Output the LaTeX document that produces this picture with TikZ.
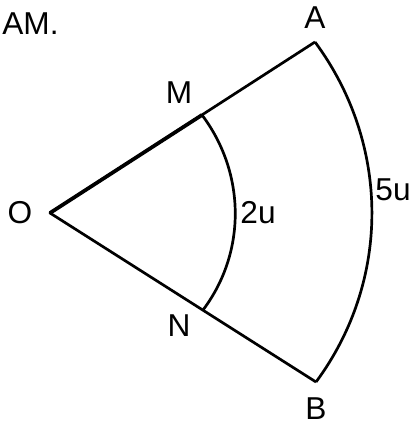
\documentclass[tikz,border=0pt]{standalone}
\usepackage{fontspec}
\setmainfont{Liberation Sans}
\begin{document}
\begin{tikzpicture}[x=0.03cm,y=0.03cm,line width=2.3pt,line join=round,
  font=\fontsize{27}{32}\selectfont]
\useasboundingbox (0,0) rectangle (414,427);
\coordinate (O) at (50,214);
\coordinate (A) at (315,385);
\coordinate (B) at (316,45);
\coordinate (M) at (202,312);
\coordinate (N) at (203,117);
\node[anchor=west,inner sep=0pt] (lAM) at (1,403) {AM.};
\node (lA) at (315,409) {A};
\node (lM) at (179,334) {M};
\node (lO) at (20,214) {O};
\node (l2u) at (258,214) {2u};
\node (l5u) at (393,237) {5u};
\node (lN) at (179,101) {N};
\node (lB) at (316,18) {B};
\draw (A) -- (O) -- (B);
\draw[line width=3.2pt] (O) -- (M);
\draw (M) to[out=-53,in=53,looseness=0.95] (N);
\draw (A) to[out=-53.5,in=53.5,looseness=0.95] (B);
\end{tikzpicture}
\end{document}
